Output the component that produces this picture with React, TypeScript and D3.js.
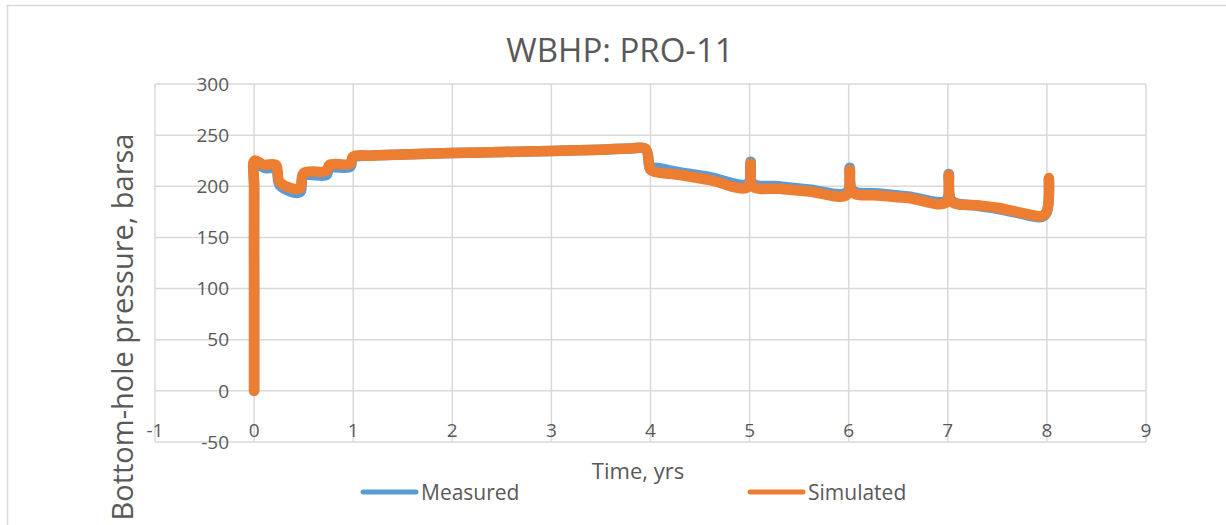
import React from "react";
import * as d3 from "d3";

const title = "WBHP: PRO-11";
const xTicks = [-1, 0, 1, 2, 3, 4, 5, 6, 7, 8, 9];
const yTicks = [-50, 0, 50, 100, 150, 200, 250, 300];

const measuredTime = [0, 0, 0, 0.005, 0.1, 0.22, 0.26, 0.46, 0.5, 0.73, 0.76, 0.97, 1.0, 1.2, 1.5, 2, 2.5, 3, 3.5, 3.8, 3.95, 4.0, 4.05, 4.3, 4.6, 4.98, 5.01, 5.03, 5.3, 5.6, 5.98, 6.01, 6.04, 6.3, 6.6, 6.98, 7.01, 7.04, 7.3, 7.5, 7.7, 7.95, 8.0, 8.02];
const measuredPressure = [0, 100, 200, 224, 218, 217, 201, 194, 210, 211, 218, 219, 228, 230, 231, 232.5, 233.5, 234.5, 235.8, 237, 236.5, 217, 218, 213.5, 209, 202.5, 224, 203, 200, 197, 194, 218, 196, 193, 190, 186, 212, 186, 181, 178, 174, 170, 175, 207];

const simulatedTime = [0, 0, 0, 0.005, 0.1, 0.22, 0.26, 0.46, 0.5, 0.73, 0.76, 0.97, 1.0, 1.2, 1.5, 2, 2.5, 3, 3.5, 3.8, 3.95, 4.0, 4.05, 4.3, 4.6, 4.98, 5.01, 5.03, 5.3, 5.6, 5.98, 6.01, 6.04, 6.3, 6.6, 6.98, 7.01, 7.04, 7.3, 7.5, 7.7, 7.95, 8.0, 8.02];
const simulatedPressure = [0, 100, 200, 225, 221, 221, 204, 198, 213, 215, 221, 222, 229, 230, 231, 232.5, 233.5, 234.5, 235.8, 237, 236.5, 216, 214, 211, 206, 199, 222, 200, 197.5, 195, 191.5, 216, 194, 191, 188.5, 184, 211, 185, 181.5, 179, 175, 171, 176, 208];

const seriesNames = ["Measured", "Simulated"];
const seriesColors = ["#5B9BD5", "#ED7D31"];

export default function App() {
  const W = 1226;
  const H = 525;
  const x = d3.scaleLinear().domain([-1, 9]).range([155, 1146]);
  const y = d3.scaleLinear().domain([-50, 300]).range([442, 84]);
  const font = "'Open Sans', sans-serif";
  const textColor = "#595959";
  const grid = "#D9D9D9";

  const line = d3
    .line<[number, number]>()
    .x((d) => x(d[0]))
    .y((d) => y(d[1]))
    .curve(d3.curveCatmullRom.alpha(0.5));

  const measured: [number, number][] = measuredTime.map((t, i) => [t, measuredPressure[i]]);
  const simulated: [number, number][] = simulatedTime.map((t, i) => [t, simulatedPressure[i]]);

  return (
    <svg
      width={W}
      height={H}
      style={{ position: "absolute", left: 0, top: 0, background: "#fff" }}
    >
      <rect x={7.5} y={5.5} width={1240} height={540} fill="#fff" stroke={grid} strokeWidth={1.5} />
      <text x={620} y={62} textAnchor="middle" fontFamily={font} fontSize={33} fill={textColor}>
        {title}
      </text>
      {yTicks.map((v) => (
        <line key={"h" + v} x1={x(-1)} x2={x(9)} y1={y(v)} y2={y(v)} stroke={grid} strokeWidth={1.5} />
      ))}
      {xTicks.map((v) => (
        <line key={"v" + v} x1={x(v)} x2={x(v)} y1={y(300)} y2={y(-50)} stroke={grid} strokeWidth={1.5} />
      ))}
      {yTicks.map((v) => (
        <text key={"yl" + v} x={229} y={y(v)} dy="0.35em" textAnchor="end" fontFamily={font} fontSize={19} fill={textColor}>
          {v}
        </text>
      ))}
      {xTicks.map((v) => (
        <text key={"xl" + v} x={x(v)} y={437} textAnchor="middle" fontFamily={font} fontSize={19} fill={textColor}>
          {v}
        </text>
      ))}
      <path d={line(measured) || ""} fill="none" stroke={seriesColors[0]} strokeWidth={10.5} strokeLinecap="round" strokeLinejoin="round" />
      <path d={line(simulated) || ""} fill="none" stroke={seriesColors[1]} strokeWidth={10.5} strokeLinecap="round" strokeLinejoin="round" />
      <text x={638} y={479} textAnchor="middle" fontFamily={font} fontSize={22} fill={textColor}>
        Time, yrs
      </text>
      <text
        transform={`translate(133, 327) rotate(-90)`}
        textAnchor="middle"
        fontFamily={font}
        fontSize={29}
        fill={textColor}
      >
        Bottom-hole pressure, barsa
      </text>
      {seriesNames.map((name, i) => {
        const lx = i === 0 ? 363 : 750;
        return (
          <g key={name}>
            <line x1={lx} x2={lx + 53} y1={492} y2={492} stroke={seriesColors[i]} strokeWidth={5} strokeLinecap="round" />
            <text x={lx + 58} y={500} fontFamily={font} fontSize={21} fill={textColor}>
              {name}
            </text>
          </g>
        );
      })}
    </svg>
  );
}
